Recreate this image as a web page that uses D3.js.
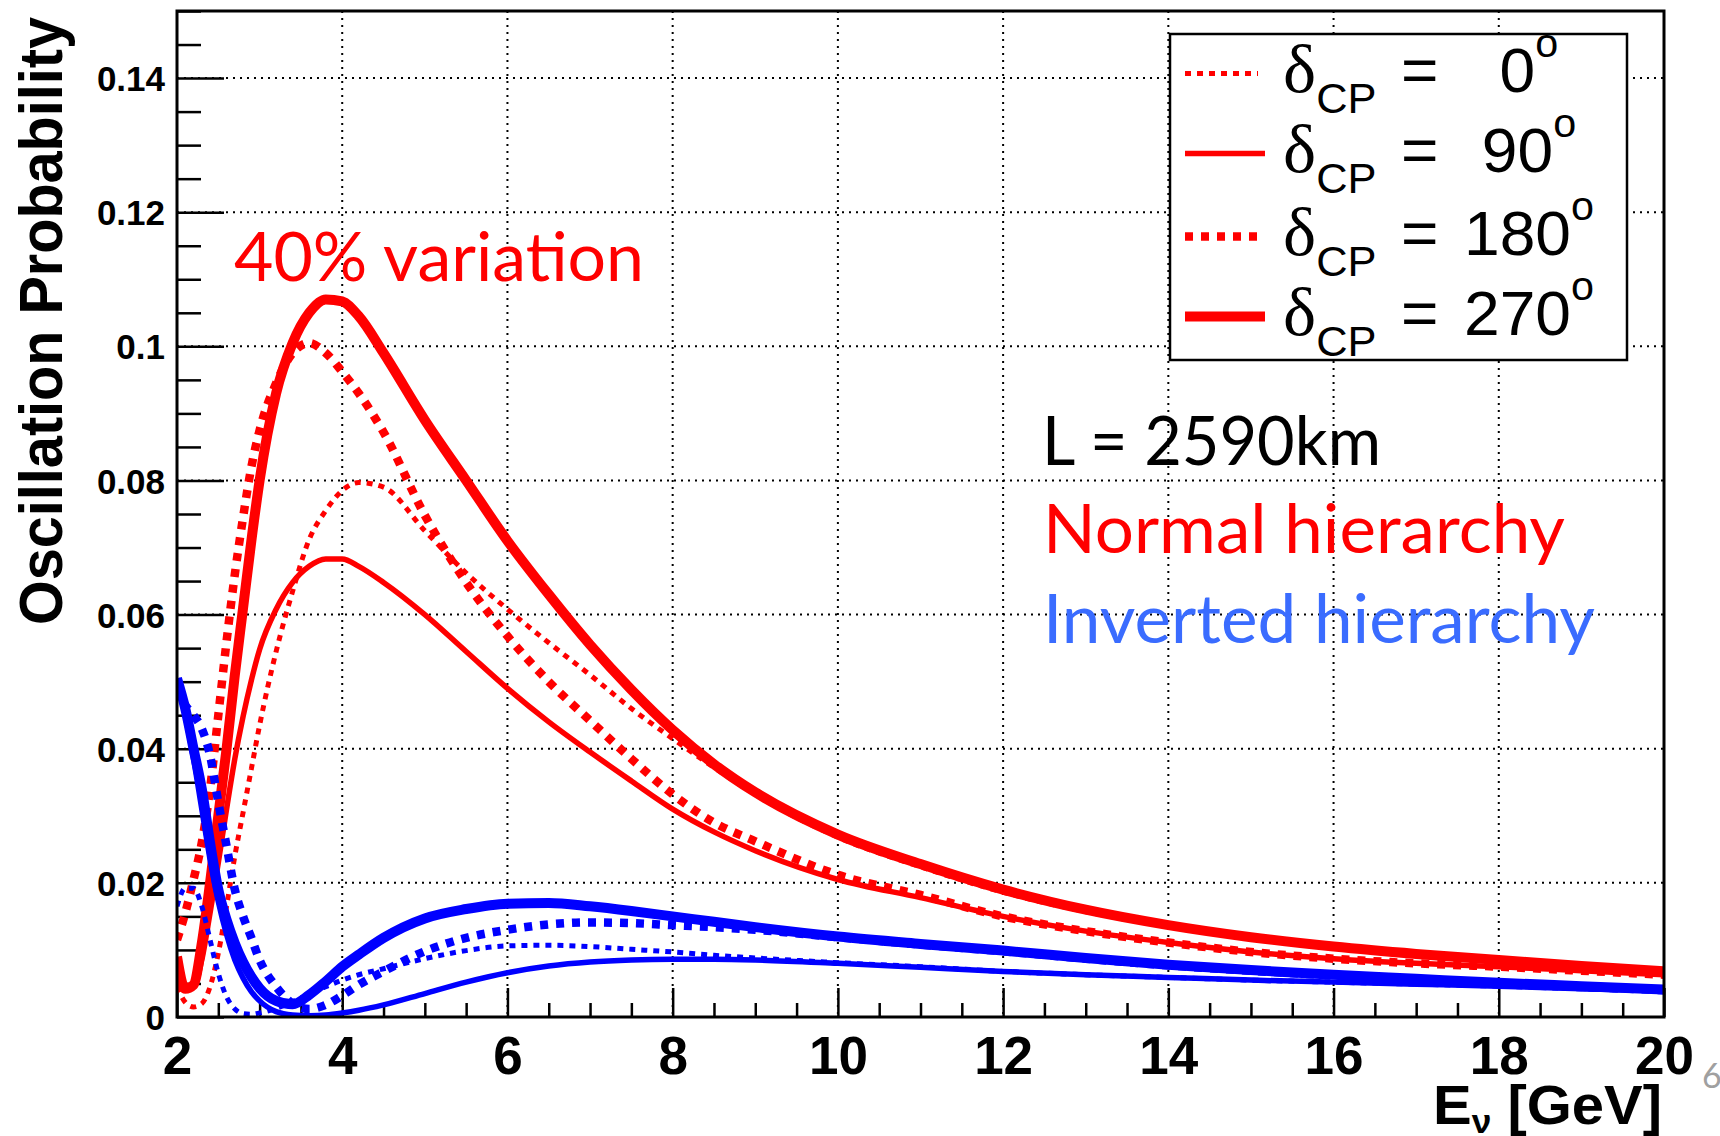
<!DOCTYPE html>
<html><head><meta charset="utf-8">
<script src="https://cdn.jsdelivr.net/npm/d3@7"></script>
<style>
html,body{margin:0;padding:0;background:#fff;}
svg{display:block;}
</style></head><body>
<svg id="chart" width="1720" height="1136"></svg>
<script>
// ---------------- data ----------------
const energies = [2.0,2.1,2.2,2.3,2.4,2.5,2.6,2.7,2.8,2.9,3.0,3.2,3.4,3.6,3.8,4.0,4.2,4.5,5.0,5.5,6.0,6.5,7.0,7.5,8.0,8.5,9,10,11,12,13,14,15,16,17,18,19,20];

// Normal hierarchy (red)
const nh0   = [0.0045,0.0022,0.0015,0.0020,0.0045,0.0095,0.0165,0.0240,0.0305,0.0370,0.0435,0.0545,0.0635,0.0712,0.0755,0.0785,0.0797,0.0790,0.0725,0.0662,0.0608,0.0558,0.0510,0.0460,0.0415,0.0372,0.0332,0.0268,0.0224,0.0186,0.0157,0.0135,0.0117,0.0103,0.0093,0.0084,0.0075,0.0067];
const nh90  = [0.0082,0.0048,0.0045,0.0085,0.0155,0.0230,0.0310,0.0385,0.0448,0.0502,0.0548,0.0608,0.0648,0.0672,0.0683,0.0683,0.0672,0.0648,0.0600,0.0545,0.0490,0.0440,0.0395,0.0352,0.0310,0.0276,0.0248,0.0205,0.0178,0.0150,0.0128,0.0111,0.0097,0.0087,0.0080,0.0075,0.0069,0.0063];
const nh180 = [0.0115,0.0155,0.0205,0.0260,0.0340,0.0450,0.0560,0.0660,0.0745,0.0820,0.0875,0.0945,0.0990,0.1005,0.0990,0.0962,0.0930,0.0872,0.0748,0.0648,0.0568,0.0500,0.0442,0.0385,0.0332,0.0290,0.0262,0.0212,0.0182,0.0150,0.0128,0.0111,0.0097,0.0087,0.0080,0.0075,0.0069,0.0063];
const nh270 = [0.0090,0.0042,0.0048,0.0110,0.0200,0.0300,0.0400,0.0510,0.0610,0.0710,0.0800,0.0930,0.1005,0.1050,0.1070,0.1067,0.1045,0.0990,0.0890,0.0800,0.0710,0.0630,0.0555,0.0488,0.0428,0.0377,0.0335,0.0272,0.0228,0.0190,0.0160,0.0137,0.0119,0.0105,0.0094,0.0085,0.0076,0.0068];

// Inverted hierarchy (blue)
const ih0   = [0.0165,0.0192,0.0192,0.0165,0.0115,0.0065,0.0030,0.0012,0.0005,0.0004,0.0006,0.0013,0.0023,0.0034,0.0045,0.0055,0.0063,0.0072,0.0087,0.0099,0.0106,0.0107,0.0105,0.0101,0.0097,0.0092,0.0088,0.0081,0.0075,0.0068,0.0063,0.0059,0.0055,0.0052,0.0049,0.0046,0.0042,0.0039];
const ih90  = [0.0505,0.0450,0.0385,0.0310,0.0235,0.0172,0.0123,0.0085,0.0058,0.0038,0.0024,0.0008,0.0003,0.0002,0.0003,0.0006,0.0010,0.0018,0.0035,0.0052,0.0066,0.0076,0.0082,0.0085,0.0086,0.0086,0.0085,0.0080,0.0074,0.0068,0.0063,0.0059,0.0055,0.0052,0.0049,0.0046,0.0042,0.0039];
const ih180 = [0.0490,0.0465,0.0450,0.0430,0.0390,0.0320,0.0255,0.0190,0.0150,0.0118,0.0085,0.0045,0.0020,0.0012,0.0018,0.0032,0.0048,0.0068,0.0098,0.0118,0.0130,0.0138,0.0141,0.0140,0.0137,0.0134,0.0130,0.0119,0.0108,0.0098,0.0087,0.0077,0.0069,0.0062,0.0056,0.0050,0.0045,0.0040];
const ih270 = [0.0505,0.0460,0.0400,0.0340,0.0260,0.0190,0.0145,0.0110,0.0082,0.0060,0.0043,0.0024,0.0019,0.0033,0.0053,0.0075,0.0093,0.0118,0.0147,0.0161,0.0169,0.0170,0.0165,0.0158,0.0150,0.0142,0.0134,0.0120,0.0109,0.0099,0.0088,0.0078,0.0070,0.0063,0.0057,0.0051,0.0046,0.0041];

const xTicks = [2,4,6,8,10,12,14,16,18,20];
const yTicks = [0,0.02,0.04,0.06,0.08,0.1,0.12,0.14];
const yTickLabels = ["0","0.02","0.04","0.06","0.08","0.1","0.12","0.14"];
const deltaValues = ["  0"," 90","180","270"];
const yTitle = "Oscillation Probability";
const annotations = ["40% variation","L = 2590km","Normal hierarchy","Inverted hierarchy"];

// ---------------- styles ----------------
const RED = "#ff0000", BLUE = "#0000ff";
const lineStyles = {
  d0:   {width:5,   dash:"6,6"},
  d90:  {width:5.5, dash:null},
  d180: {width:8.5, dash:"8,8"},
  d270: {width:10,  dash:null}
};
const series = [
  {v:nh0,c:RED,s:"d0"},{v:nh90,c:RED,s:"d90"},{v:nh180,c:RED,s:"d180"},{v:nh270,c:RED,s:"d270"},
  {v:ih0,c:BLUE,s:"d0"},{v:ih90,c:BLUE,s:"d90"},{v:ih180,c:BLUE,s:"d180"},{v:ih270,c:BLUE,s:"d270"}
];
const SANS = "'Liberation Sans', Arial, Helvetica, sans-serif";
const CAL = "Lato, 'Open Sans', sans-serif";

// ---------------- layout ----------------
const L = 177, R = 1664, T = 11, B = 1017;
const svg = d3.select("#chart");
svg.append("rect").attr("width",1720).attr("height",1136).attr("fill","#fff");

const x = d3.scaleLinear().domain([2,20]).range([L,R]);
const y = d3.scaleLinear().domain([0,0.15]).range([B,T]);

// grid
const grid = svg.append("g");
grid.selectAll("line.gx").data(xTicks.filter(d=>d>2&&d<20)).join("line")
  .attr("x1",d=>x(d)).attr("x2",d=>x(d)).attr("y1",T).attr("y2",B)
  .attr("stroke","#000").attr("stroke-width",2).attr("stroke-dasharray","2,5");
grid.selectAll("line.gy").data(yTicks.filter(d=>d>0)).join("line")
  .attr("x1",L).attr("x2",R).attr("y1",d=>y(d)).attr("y2",d=>y(d))
  .attr("stroke","#000").attr("stroke-width",2).attr("stroke-dasharray","2,5");

// axes
function styleTicks(g){ g.select(".domain").remove(); g.selectAll(".tick line").attr("stroke","#000").attr("stroke-width",2.5); }
const xMinor = d3.range(2,20.001,0.5).filter(d=>Math.abs(d/2-Math.round(d/2))>1e-6);
svg.append("g").attr("transform",`translate(0,${B})`)
  .call(d3.axisBottom(x).tickValues(xMinor).tickSize(-14).tickFormat("")).call(styleTicks);
const gx = svg.append("g").attr("transform",`translate(0,${B})`)
  .call(d3.axisBottom(x).tickValues(xTicks).tickSize(-29).tickFormat(d3.format("d"))).call(styleTicks);
gx.selectAll("text").attr("y",57).attr("dy",null).attr("fill","#000")
  .attr("font-family",SANS).attr("font-weight","bold").attr("font-size",53);

const yMinor = d3.range(0,0.1501,0.005).filter(d=>Math.abs(d/0.02-Math.round(d/0.02))>1e-6);
svg.append("g").attr("transform",`translate(${L},0)`)
  .call(d3.axisLeft(y).tickValues(yMinor).tickSize(-24).tickFormat("")).call(styleTicks);
const gy = svg.append("g").attr("transform",`translate(${L},0)`)
  .call(d3.axisLeft(y).tickValues(yTicks).tickSize(-47).tickFormat((d,i)=>yTickLabels[i])).call(styleTicks);
gy.selectAll("text").attr("x",-12).attr("dy","0.36em").attr("fill","#000")
  .attr("font-family",SANS).attr("font-weight","bold").attr("font-size",35);

// curves
svg.append("clipPath").attr("id","clip").append("rect").attr("x",L).attr("y",T).attr("width",R-L).attr("height",B-T);
const line = d3.line().x((d,i)=>x(energies[i])).y(d=>y(d)).curve(d3.curveMonotoneX);
svg.append("g").attr("clip-path","url(#clip)").selectAll("path").data(series).join("path")
  .attr("d",d=>line(d.v)).attr("fill","none").attr("stroke",d=>d.c)
  .attr("stroke-width",d=>lineStyles[d.s].width)
  .attr("stroke-dasharray",d=>lineStyles[d.s].dash)
  .attr("stroke-linejoin","round");

// frame
svg.append("rect").attr("x",L).attr("y",T).attr("width",R-L).attr("height",B-T)
  .attr("fill","none").attr("stroke","#000").attr("stroke-width",3);

// axis titles
svg.append("text").attr("transform","translate(62,17) rotate(-90)")
  .attr("text-anchor","end").attr("font-family",SANS).attr("font-weight","bold")
  .attr("font-size",62).attr("textLength",608).attr("lengthAdjust","spacingAndGlyphs").text(yTitle);

const xt = svg.append("text").attr("x",1662).attr("y",1124).attr("text-anchor","end")
  .attr("font-family",SANS).attr("font-weight","bold").attr("font-size",56);
xt.append("tspan").text("E");
xt.append("tspan").attr("font-size",34).attr("dy",9).text("ν");
xt.append("tspan").attr("dy",-9).text(" [GeV]");
{ const bb = xt.node().getBBox(); const k = 229/bb.width;
  xt.attr("transform",`translate(1662,0) scale(${k},1) translate(-1662,0)`); }

// legend
const lg = svg.append("g");
lg.append("rect").attr("x",1170).attr("y",34).attr("width",457).attr("height",326)
  .attr("fill","#fff").attr("stroke","#000").attr("stroke-width",2.5);
const legStyles = ["d0","d90","d180","d270"];
const baselines = [92,172,255,335];
legStyles.forEach((s,i)=>{
  const b = baselines[i];
  lg.append("line").attr("x1",1185).attr("x2",(s==="d0"||s==="d180")?1258:1265)
    .attr("y1",b-18.5).attr("y2",b-18.5).attr("stroke",RED)
    .attr("stroke-width",lineStyles[s].width).attr("stroke-dasharray",lineStyles[s].dash);
});
const legText = lg.append("g");
deltaValues.forEach((v,i)=>{
  const b = baselines[i];
  const t = legText.append("text").attr("x",1283).attr("y",b).attr("font-family",SANS)
    .attr("font-size",62).attr("fill","#000").style("white-space","pre");
  t.append("tspan").attr("font-family","'Liberation Serif', 'DejaVu Serif', serif").attr("font-size",68).text("δ");
  t.append("tspan").attr("font-size",42).attr("dy",21).text("CP");
  t.append("tspan").attr("x",1397).attr("dy",-21).text("=");
  t.append("tspan").attr("x",1458).text(v);
  t.append("tspan").attr("font-size",40).attr("dy",-35).text("o");
});
{ const bb = legText.node().getBBox(); const k = (1594-1283)/bb.width;
  legText.attr("transform",`translate(1283,0) scale(${k},1) translate(-1283,0)`); }

// annotations
svg.append("text").attr("x",234).attr("y",281).attr("fill",RED).attr("font-family",CAL)
  .attr("font-size",67).attr("textLength",410).attr("lengthAdjust","spacingAndGlyphs").text(annotations[0]);
svg.append("text").attr("x",1042).attr("y",465).attr("fill","#000").attr("font-family",CAL)
  .attr("font-size",67).attr("textLength",339).attr("lengthAdjust","spacingAndGlyphs").text(annotations[1]);
svg.append("text").attr("x",1043).attr("y",553).attr("fill",RED).attr("font-family",CAL)
  .attr("font-size",67).attr("textLength",522).attr("lengthAdjust","spacingAndGlyphs").text(annotations[2]);
svg.append("text").attr("x",1043).attr("y",643).attr("fill","#3a6cff").attr("font-family",CAL)
  .attr("font-size",67).attr("textLength",552).attr("lengthAdjust","spacingAndGlyphs").text(annotations[3]);

// slide number
svg.append("text").attr("x",1702).attr("y",1088).attr("fill","#a0a0a0").attr("font-family",CAL)
  .attr("font-size",34).text("6");
</script>
</body></html>
